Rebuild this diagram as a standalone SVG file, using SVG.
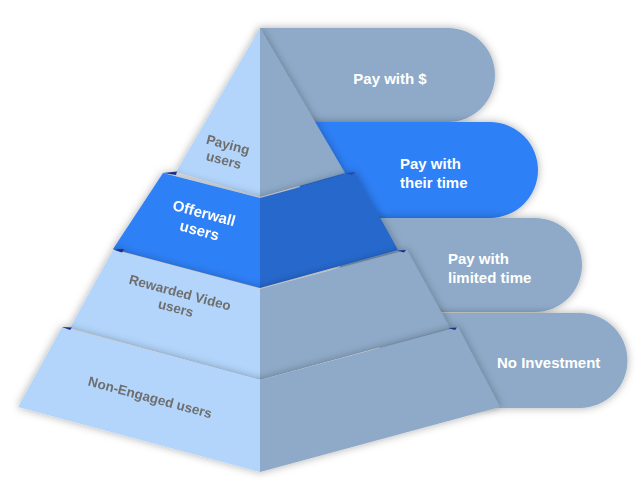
<svg xmlns="http://www.w3.org/2000/svg" width="642" height="502" viewBox="0 0 642 502">
  <defs>
    <filter id="sh" x="-20%" y="-30%" width="140%" height="160%">
      <feDropShadow dx="0" dy="0" stdDeviation="4" flood-color="#000" flood-opacity="0.32"/>
    </filter>
    <style>
      .tab { fill: #8eaac8; filter: url(#sh); }
      .tab-hi { fill: #2f80f6; filter: url(#sh); }
      .lf { fill: #b3d5fb; }
      .rf { fill: #8eaac8; }
      .lf-hi { fill: #2f80f6; }
      .rf-hi { fill: #2567cc; }
      .layer { filter: url(#sh); }
      .edge { fill: #1c2f8c; }
      .tl { font-family: "Liberation Sans", Arial, sans-serif; font-weight: bold; font-size: 15px; fill: #ffffff; }
      .pl { font-family: "Liberation Sans", Arial, sans-serif; font-weight: bold; font-size: 13.5px; fill: #6e6e6e; text-anchor: middle; }
      .pl-hi { font-family: "Liberation Sans", Arial, sans-serif; font-weight: bold; font-size: 15px; fill: #ffffff; text-anchor: middle; }
    </style>
  </defs>
  <rect width="642" height="502" fill="#ffffff"/>

  <g id="tabs">
    <g id="tab-pay-money">
      <path class="tab" d="M260,28 H448 A47,47 0 0 1 448,122 H260 Z"/>
      <text class="tl" x="390" y="84" text-anchor="middle">Pay with $</text>
    </g>
    <g id="tab-pay-time">
      <path class="tab-hi" d="M300,122 H490 A48,48 0 0 1 490,218 H300 Z"/>
      <text class="tl" x="400" y="169">Pay with</text>
      <text class="tl" x="400" y="188">their time</text>
    </g>
    <g id="tab-pay-limited">
      <path class="tab" d="M340,218 H535 A47,47 0 0 1 535,312 H340 Z"/>
      <text class="tl" x="448" y="264">Pay with</text>
      <text class="tl" x="448" y="283">limited time</text>
    </g>
    <g id="tab-no-investment">
      <path class="tab" d="M380,313 H580 A47.5,47.5 0 0 1 580,408 H380 Z"/>
      <text class="tl" x="497" y="368">No Investment</text>
    </g>
  </g>

  <g id="pyramid">
    <g id="layer-paying" class="layer">
      <polygon class="lf" points="260,28 176,172 260,197"/>
      <polygon class="rf" points="260,28 260,197 345,173"/>
      <text class="pl" transform="translate(226,152) rotate(15)"><tspan x="0" y="-3">Paying</tspan><tspan x="0" y="13">users</tspan></text>
    </g>
    <g id="layer-offerwall" class="layer">
      <polygon class="lf-hi" points="163,173 113,249 260,288 260,198"/>
      <polygon class="rf-hi" points="260,198 260,288 398,250 355,172"/>
      <polygon class="edge" points="163,173 177,171.5 176,175"/>
      <polygon class="edge" points="345,173 355,172 352,175" fill-opacity="0.5"/>
      <text class="pl-hi" transform="translate(202,221) rotate(15)"><tspan x="0" y="-3">Offerwall</tspan><tspan x="0" y="15">users</tspan></text>
    </g>
    <g id="layer-rewarded" class="layer">
      <polygon class="lf" points="113,250 70,328 260,380 260,289"/>
      <polygon class="rf" points="260,289 260,380 450,328 407,250"/>
      <polygon class="edge" points="113,249.5 124,249 122,252.5"/>
      <polygon class="edge" points="397,250.5 406,250 404,252.5"/>
      <text class="pl" transform="translate(178,300) rotate(15)"><tspan x="0" y="-3">Rewarded Video</tspan><tspan x="0" y="13">users</tspan></text>
    </g>
    <g id="layer-non-engaged" class="layer">
      <polygon class="lf" points="62,327 18,407 260,472 260,380"/>
      <polygon class="rf" points="260,380 260,472 500,407 458,327"/>
      <polygon class="edge" points="62,327 72,327.5 70,330"/>
      <polygon class="edge" points="448,328 457,327.5 455,330"/>
      <text class="pl" transform="translate(150,398) rotate(15)"><tspan x="0" y="4">Non-Engaged users</tspan></text>
    </g>
  </g>
</svg>
